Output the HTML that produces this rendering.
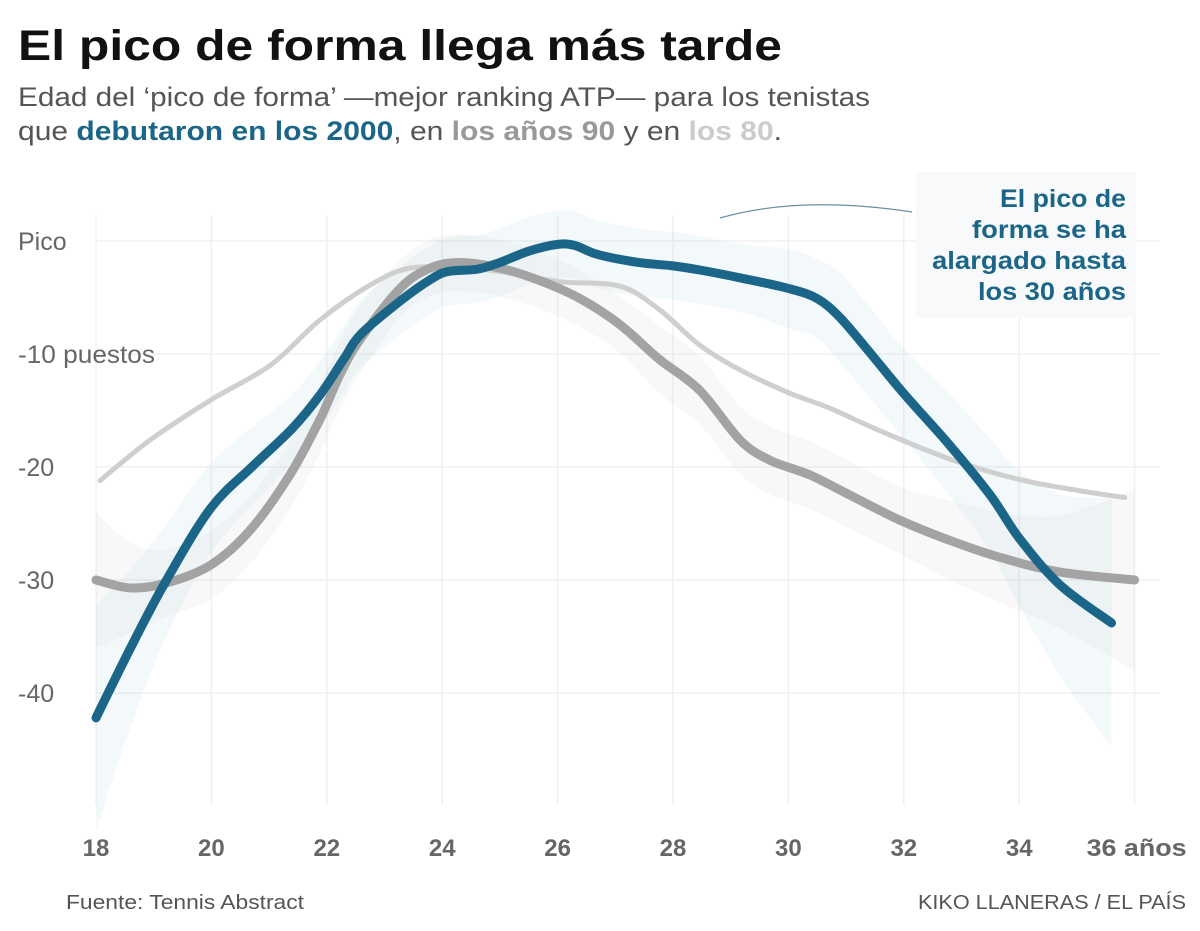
<!DOCTYPE html>
<html><head><meta charset="utf-8"><style>
body{margin:0;background:#fff;width:1200px;height:926px;overflow:hidden;font-family:"Liberation Sans",sans-serif}
</style></head><body>
<svg width="1200" height="926" xmlns="http://www.w3.org/2000/svg" font-family="Liberation Sans, sans-serif">
<text x="18" y="60" font-size="43" font-weight="bold" fill="#111" textLength="764" lengthAdjust="spacingAndGlyphs">El pico de forma llega más tarde</text>
<text x="18" y="106" font-size="27" fill="#555" textLength="852" lengthAdjust="spacingAndGlyphs">Edad del ‘pico de forma’ —mejor ranking ATP— para los tenistas</text>
<text x="18" y="140" font-size="27" fill="#555" textLength="764" lengthAdjust="spacingAndGlyphs">que <tspan font-weight="bold" fill="#1b6589">debutaron en los 2000</tspan>, en <tspan font-weight="bold" fill="#999">los años 90</tspan> y en <tspan font-weight="bold" fill="#ccc">los 80</tspan>.</text>
<g id="grid"></g>
<g id="bands"></g>
<g id="lines"></g>
<g id="axes"></g>
<rect x="916" y="172" width="220" height="146" fill="#f8f9fa"/>
<path d="M720 218 Q800 195 912 212" fill="none" stroke="#6a8fa3" stroke-width="1.2"/>
<g font-size="25" font-weight="bold" fill="#1b6589" text-anchor="end">
<text x="1126" y="207" textLength="126" lengthAdjust="spacingAndGlyphs">El pico de</text><text x="1126" y="238" textLength="154" lengthAdjust="spacingAndGlyphs">forma se ha</text><text x="1126" y="269" textLength="194" lengthAdjust="spacingAndGlyphs">alargado hasta</text><text x="1126" y="300" textLength="148" lengthAdjust="spacingAndGlyphs">los 30 años</text></g>
<text x="66" y="909" font-size="20" fill="#555" textLength="238" lengthAdjust="spacingAndGlyphs">Fuente: Tennis Abstract</text>
<text x="918" y="909" font-size="20" fill="#555" textLength="268" lengthAdjust="spacingAndGlyphs">KIKO LLANERAS / EL PAÍS</text>
</svg>
<script>
const ages00=[18,18.6,19.2,19.98,20.7,21.4,21.9,22.3,22.6,23.3,23.8,24.1,24.6,25,25.5,26,26.3,26.7,27.4,28,28.5,29.2,30,30.5,30.9,31.4,32,32.8,33.5,34,34.7,35.6];
const vals00=[-42.2,-36,-30.2,-23.7,-20,-16.6,-13.5,-10.4,-8.2,-5.2,-3.4,-2.7,-2.5,-1.9,-0.9,-0.3,-0.4,-1.2,-1.9,-2.2,-2.6,-3.3,-4.2,-5.1,-6.8,-9.8,-13.5,-18.1,-22.5,-26.3,-30.4,-33.8];
const band00=[10,7,5,4,3.5,3,3,3,3,3,3,3,3,3,3,3,3,3,3,3,3,3,3.5,3.5,4,4,4,4.5,5,6,8,11];
const ages90=[18,18.59,19.2,19.98,20.67,21.36,21.88,22.23,22.58,23.27,23.79,24.31,25,25.69,26.39,27.08,27.77,28.46,29.16,29.68,30.37,31.07,31.93,32.8,33.67,34.71,36];
const vals90=[-30,-30.7,-30.3,-28.7,-25.6,-20.7,-15.8,-11.8,-8.7,-4.2,-2.4,-1.9,-2.4,-3.5,-5.1,-7.4,-10.5,-13.2,-17.6,-19.4,-20.7,-22.5,-24.7,-26.5,-28,-29.3,-30];
const band90=[6,4,3,3,3,3,3,3,3,2.5,2.5,2.5,2.5,2.5,2.5,2.5,3,3,3,3,3,3,3,3.5,4,5,8];
const ages80=[18.07,18.94,19.98,21.02,21.88,22.75,23.44,24.31,25,26.04,27.08,27.77,28.46,29.16,29.99,30.72,31.59,32.8,34,35.05,35.83];
const vals80=[-21.2,-17.6,-14.1,-11,-7,-3.9,-2.4,-2.4,-2.7,-3.6,-4,-6.1,-9.2,-11.4,-13.4,-14.8,-16.8,-19.3,-21.1,-22.1,-22.7];
const xTicks=[18,20,22,24,26,28,30,32,34,36];
const yTicks=[0,-10,-20,-30,-40];
const yLabels=["Pico","-10 puestos","-20","-30","-40"];
const X=a=>96+(a-18)*57.7, Y=v=>241-v*11.3;
const NS="http://www.w3.org/2000/svg";
function mk(tag,attrs,parent){const e=document.createElementNS(NS,tag);for(const k in attrs)e.setAttribute(k,attrs[k]);document.getElementById(parent).appendChild(e);return e;}
function smooth(pts){let d="M"+pts[0][0]+" "+pts[0][1];for(let i=0;i<pts.length-1;i++){const p0=pts[Math.max(0,i-1)],p1=pts[i],p2=pts[i+1],p3=pts[Math.min(pts.length-1,i+2)];d+=" C"+(p1[0]+(p2[0]-p0[0])/6)+" "+(p1[1]+(p2[1]-p0[1])/6)+" "+(p2[0]-(p3[0]-p1[0])/6)+" "+(p2[1]-(p3[1]-p1[1])/6)+" "+p2[0]+" "+p2[1];}return d;}
yTicks.forEach((t,i)=>{
 const l=mk("line",{x1:96,x2:1160,y1:Y(t),y2:Y(t),stroke:"#f0f0f0","stroke-width":1.5},"grid");
 
 
 const tx=mk("text",{x:18,y:Y(t)+9,"font-size":25,fill:"#666"},"axes");tx.textContent=yLabels[i];
 if(i==1){tx.setAttribute("textLength","137");tx.setAttribute("lengthAdjust","spacingAndGlyphs");}
 
 
});
xTicks.forEach(t=>{
 const l=mk("line",{x1:X(t),x2:X(t),y1:215,y2:805,stroke:"#f0f0f0","stroke-width":1.5},"grid");
 
 
 const tx=mk("text",{x:t==36?X(t)-48:X(t),y:856,"font-size":24,"font-weight":"bold",fill:"#666","text-anchor":t==36?"start":"middle"},"axes");
 tx.textContent=t==36?"36 años":String(t);
 if(t==36){tx.setAttribute("textLength","100");tx.setAttribute("lengthAdjust","spacingAndGlyphs");}
 
 
});
function band(ages,vals,bw,fill,name){
 const up=ages.map((a,i)=>[X(a),Y(vals[i]+bw[i])]),lo=ages.map((a,i)=>[X(a),Y(vals[i]-bw[i])]).reverse();
 const s=smooth(lo);
 const d=smooth(up)+" L"+lo[0][0]+" "+lo[0][1]+s.slice(s.indexOf(" C"))+" Z";
 const p=mk("path",{d:d,fill:fill},"bands");
 
 
}
band(ages90,vals90,band90,"rgba(200,200,200,0.12)","band-90s");
band(ages00,vals00,band00,"rgba(190,215,235,0.18)","band-2000s");
function line(ages,vals,col,w,name){
 const p=mk("path",{d:smooth(ages.map((a,i)=>[X(a),Y(vals[i])])),fill:"none",stroke:col,"stroke-width":w,"stroke-linecap":"round","stroke-linejoin":"round"},"lines");
 
 
}
line(ages80,vals80,"#cfcfcf",5,"line-80s");
line(ages90,vals90,"#a3a3a3",9,"line-90s");
line(ages00,vals00,"#1b6589",9,"line-2000s");
</script>
</body></html>
